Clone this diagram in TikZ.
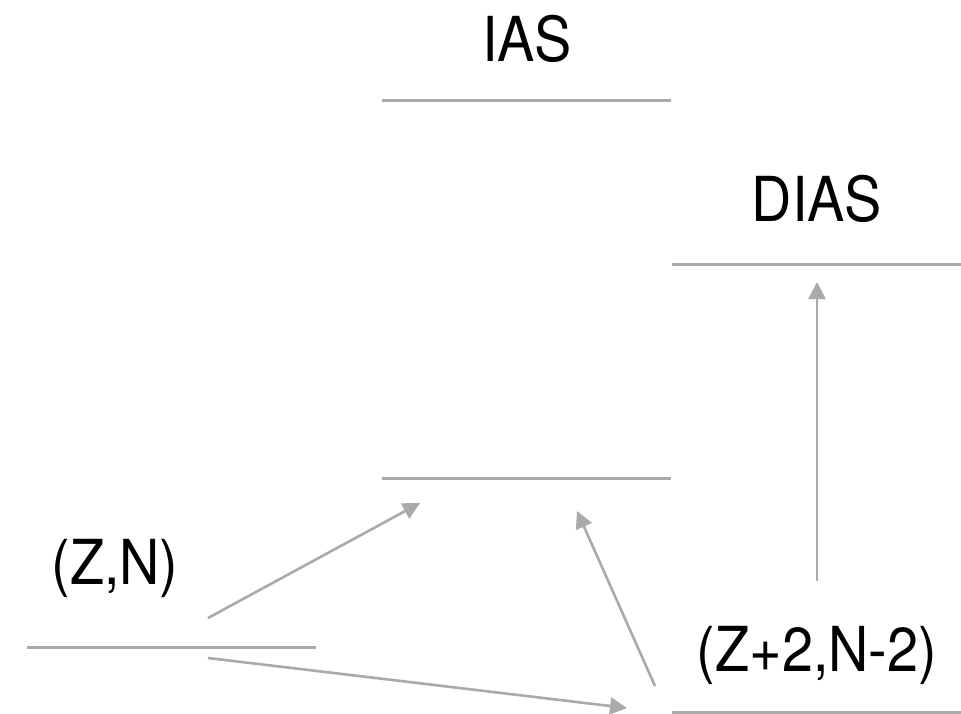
\documentclass[tikz,border=0pt]{standalone}
\usepackage{fontspec}
\setmainfont{TeX Gyre Heros}[FakeStretch=0.9]
\usetikzlibrary{arrows.meta}
\definecolor{lvl}{RGB}{170,170,170}
\tikzset{
  level/.style={draw=lvl, line width=3pt},
  trans/.style={draw=lvl, line width=2.6pt, -{Triangle[length=17pt,width=17pt]}, shorten >=0pt},
  lab/.style={anchor=base, inner sep=0pt, font=\fontsize{62}{74}\selectfont}
}
\begin{document}
\begin{tikzpicture}[x=1pt,y=-1pt]
\useasboundingbox (0,0) rectangle (961,714);
% levels
\coordinate (iasL) at (382,101); \coordinate (iasR) at (671,101);
\coordinate (diasL) at (672,264); \coordinate (diasR) at (961,264);
\coordinate (midL) at (382,478); \coordinate (midR) at (671,478);
\coordinate (znL) at (27,647); \coordinate (znR) at (316,647);
\coordinate (dL) at (672,712); \coordinate (dR) at (961,712);
\draw[level] (iasL) -- (iasR);
\draw[level] (diasL) -- (diasR);
\draw[level] (midL) -- (midR);
\draw[level] (znL) -- (znR);
\draw[level] (dL) -- (dR);
% labels
\node[lab] (ias) at (527,62) {IAS};
\node[lab] (dias) at (817,222) {DIAS};
\node[lab] (zn) at (115,584) {(Z,N)};
\node[lab] (zn2) at (817,671) {(Z+2,N-2)};
% transitions
\coordinate (a1s) at (208,618); \coordinate (a1e) at (420,503);
\coordinate (a2s) at (208,658); \coordinate (a2e) at (627,708);
\coordinate (a3s) at (655,686); \coordinate (a3e) at (577,511);
\coordinate (a4s) at (817,581); \coordinate (a4e) at (817,282);
\draw[trans] (a1s) -- (a1e);
\draw[trans] (a2s) -- (a2e);
\draw[trans] (a3s) -- (a3e);
\draw[trans] (a4s) -- (a4e);
\end{tikzpicture}
\end{document}
